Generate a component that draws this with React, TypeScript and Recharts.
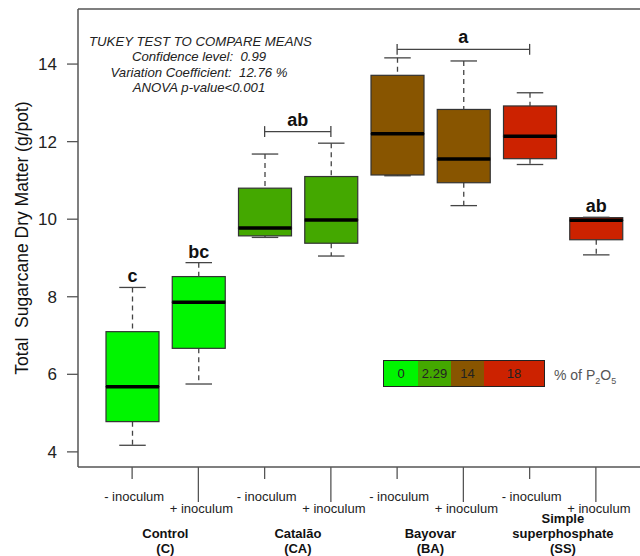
import {
    ComposedChart,
    Bar,
    XAxis,
    YAxis,
    ReferenceLine,
    LabelList
} from 'recharts';

const FONT = '"Liberation Sans", Arial, Helvetica, sans-serif';

// treatments, in plotting order
const categories = ['C-', 'C+', 'CA-', 'CA+', 'BA-', 'BA+', 'SS-', 'SS+'];
const inoculumLabels = ['- inoculum', '+ inoculum', '- inoculum', '+ inoculum', '- inoculum', '+ inoculum', '- inoculum', '+ inoculum'];
const groupLabels = [['Control', '(C)'], ['Catalão', '(CA)'], ['Bayovar', '(BA)'], ['Simple', 'superphosphate', '(SS)']];

// five-number summaries (g/pot)
const whiskerLow = [4.17, 5.75, 9.53, 9.05, 11.12, 10.35, 11.41, 9.08];
const quartile1 = [4.78, 6.67, 9.57, 9.38, 11.14, 10.94, 11.56, 9.47];
const medians = [5.68, 7.86, 9.77, 9.98, 12.2, 11.55, 12.14, 9.97];
const quartile3 = [7.1, 8.52, 10.8, 11.1, 13.71, 12.83, 12.92, 10.04];
const whiskerHigh = [8.24, 8.88, 11.68, 11.96, 14.16, 14.08, 13.26, 10.05];
const letters = ['c', 'bc', '', '', '', '', '', 'ab'];

// tukey group brackets
const bracketFrom = ['CA-', 'BA-'];
const bracketTo = ['CA+', 'SS-'];
const bracketLevel = [12.26, 14.38];
const bracketLetter = ['ab', 'a'];

const yTicks = [4, 6, 8, 10, 12, 14];
const yMin = 3.61;
const yMax = 15.42;

const p2o5Levels = ['0', '2.29', '14', '18'];
const boxColors = ['#00f500', '#00f500', '#44a800', '#44a800', '#885500', '#885500', '#cc2200', '#cc2200'];
const levelColors = ['#00f500', '#44a800', '#885500', '#cc2200'];
const levelWidths = [34, 33, 33, 60];

const data = categories.map((cat, i) => ({
    cat,
    base: whiskerLow[i],
    lowW: quartile1[i] - whiskerLow[i],
    lowBox: medians[i] - quartile1[i],
    upBox: quartile3[i] - medians[i],
    upW: whiskerHigh[i] - quartile3[i],
    letter: letters[i],
}));

const AXIS = '#555';
const LINE = '#444';

const span = (p: any) => {
    const top = Math.min(p.y, p.y + p.height);
    const bottom = Math.max(p.y, p.y + p.height);
    return { top, bottom, cx: p.x + p.width / 2 };
};

const EmptyShape = () => <g />;

const LowerWhisker = (p: any) => {
    const { top, bottom, cx } = span(p);
    return (
        <g>
            <line x1={cx} x2={cx} y1={top} y2={bottom} stroke={LINE} strokeWidth={1.3} strokeDasharray="5 4" />
            <line x1={cx - p.width / 4} x2={cx + p.width / 4} y1={bottom} y2={bottom} stroke={LINE} strokeWidth={1.3} />
        </g>
    );
};

const UpperWhisker = (p: any) => {
    const { top, bottom, cx } = span(p);
    return (
        <g>
            <line x1={cx} x2={cx} y1={top} y2={bottom} stroke={LINE} strokeWidth={1.3} strokeDasharray="5 4" />
            <line x1={cx - p.width / 4} x2={cx + p.width / 4} y1={top} y2={top} stroke={LINE} strokeWidth={1.3} />
        </g>
    );
};

const LowerBox = (p: any) => {
    const { top, bottom } = span(p);
    return <rect x={p.x} y={top} width={p.width} height={bottom - top} fill={boxColors[p.index]} stroke="#333" strokeWidth={1.2} />;
};

const UpperBox = (p: any) => {
    const { top, bottom } = span(p);
    return (
        <g>
            <rect x={p.x} y={top} width={p.width} height={bottom - top} fill={boxColors[p.index]} stroke="#333" strokeWidth={1.2} />
            <line x1={p.x} x2={p.x + p.width} y1={bottom} y2={bottom} stroke="#000" strokeWidth={3.5} />
        </g>
    );
};

const TreatmentTick = (props: any) => {
    const { x, y, payload } = props;
    const i = categories.indexOf(payload.value);
    const plus = i % 2 === 1;
    const group = groupLabels[Math.floor(i / 2)];
    const gx = x - 33;
    return (
        <g fontFamily={FONT}>
            <line x1={x} x2={x} y1={y} y2={y + (plus ? 35 : 12)} stroke={AXIS} strokeWidth={1.3} />
            <text x={x + (plus ? 3 : 2)} y={y + (plus ? 46 : 34)} textAnchor="middle" fontSize={13} fill="#222">
                {inoculumLabels[i]}
            </text>
            {plus && group.map((t, k) => (
                <text key={t} x={gx} y={y + 86 - (group.length - 1 - k) * 15} textAnchor="middle" fontSize={13} fontWeight="bold" fill="#111">
                    {t}
                </text>
            ))}
        </g>
    );
};

const YTitle = ({ viewBox }: any) => {
    const cx = 22;
    const cy = viewBox.y + viewBox.height / 2;
    return (
        <text x={cx} y={cy} transform={`rotate(-90 ${cx} ${cy})`} textAnchor="middle" dominantBaseline="central"
            fontSize={17.5} fontFamily={FONT} fill="#111" style={{ whiteSpace: 'pre' }}>
            {'Total  Sugarcane Dry Matter (g/pot)'}
        </text>
    );
};

export default function App() {
    return (
        <div style={{ position: 'absolute', left: 0, top: 0, width: 640, height: 556, background: '#fff' }}>
            <ComposedChart width={640} height={556} data={data} margin={{ top: 9, right: 0, left: 0, bottom: 0 }}>
                <XAxis
                    dataKey="cat"
                    height={89}
                    padding={{ left: 21, right: 11 }}
                    axisLine={{ stroke: AXIS, strokeWidth: 1.5 }}
                    tickLine={false}
                    tickSize={0}
                    tickMargin={0}
                    interval={0}
                    tick={<TreatmentTick />}
                />
                <YAxis
                    type="number"
                    width={78}
                    domain={[yMin, yMax]}
                    allowDataOverflow
                    ticks={yTicks}
                    tickSize={11}
                    tickMargin={10}
                    axisLine={{ stroke: AXIS, strokeWidth: 1.5 }}
                    tickLine={{ stroke: AXIS, strokeWidth: 1.3 }}
                    tick={{ fontSize: 17, fill: '#222', fontFamily: FONT }}
                    label={<YTitle />}
                />
                <ReferenceLine y={yMax} stroke={AXIS} strokeWidth={1.5} />
                <Bar dataKey="base" stackId="box" barSize={53} shape={<EmptyShape />} isAnimationActive={false} />
                <Bar dataKey="lowW" stackId="box" barSize={53} shape={<LowerWhisker />} isAnimationActive={false} />
                <Bar dataKey="lowBox" stackId="box" barSize={53} shape={<LowerBox />} isAnimationActive={false} />
                <Bar dataKey="upBox" stackId="box" barSize={53} shape={<UpperBox />} isAnimationActive={false} />
                <Bar dataKey="upW" stackId="box" barSize={53} shape={<UpperWhisker />} isAnimationActive={false}>
                    <LabelList dataKey="letter" position="top" offset={5}
                        style={{ fontSize: 18, fontWeight: 'bold', fill: '#111', fontFamily: FONT }} />
                </Bar>
                {bracketFrom.map((from, k) => (
                    <ReferenceLine
                        key={`br-${from}`}
                        segment={[{ x: from, y: bracketLevel[k] }, { x: bracketTo[k], y: bracketLevel[k] }]}
                        stroke={LINE}
                        strokeWidth={1.3}
                        label={{ value: bracketLetter[k], position: 'top', offset: 6, fontSize: 18, fontWeight: 'bold', fill: '#111', fontFamily: FONT }}
                    />
                ))}
                {bracketFrom.map((from, k) => [from, bracketTo[k]].map((c) => (
                    <ReferenceLine
                        key={`bt-${k}-${c}`}
                        segment={[{ x: c, y: bracketLevel[k] - 0.14 }, { x: c, y: bracketLevel[k] + 0.14 }]}
                        stroke={LINE}
                        strokeWidth={1.3}
                    />
                )))}
            </ComposedChart>

            <div style={{
                position: 'absolute', left: 89, top: 34, width: 220, textAlign: 'center',
                fontFamily: FONT, fontStyle: 'italic', fontSize: 13.2, lineHeight: '15.4px', color: '#222', whiteSpace: 'nowrap'
            }}>
                <div>TUKEY TEST TO COMPARE MEANS</div>
                <div>Confidence level:&nbsp; 0.99</div>
                <div>Variation Coefficient:&nbsp; 12.76 %</div>
                <div>ANOVA p-value&lt;0.001</div>
            </div>

            <div style={{
                position: 'absolute', left: 383, top: 360, height: 27, display: 'flex',
                border: '1px solid #222', boxSizing: 'border-box', fontFamily: FONT, fontSize: 13, color: '#222'
            }}>
                {p2o5Levels.map((lv, k) => (
                    <div key={lv} style={{
                        width: levelWidths[k], background: levelColors[k], display: 'flex',
                        alignItems: 'center', justifyContent: 'center'
                    }}>{lv}</div>
                ))}
            </div>
            <div style={{ position: 'absolute', left: 554, top: 365, fontFamily: FONT, fontSize: 14, color: '#555', lineHeight: '20px' }}>
                % of P<sub style={{ fontSize: 9 }}>2</sub>O<sub style={{ fontSize: 9 }}>5</sub>
            </div>
        </div>
    );
}
